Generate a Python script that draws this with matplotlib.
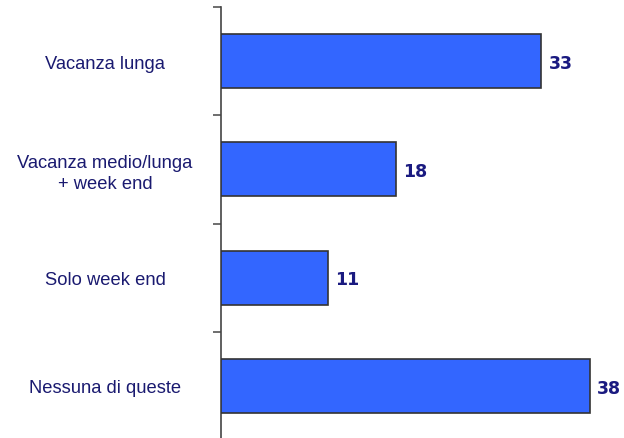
import matplotlib
matplotlib.use("Agg")
import matplotlib.pyplot as plt
import numpy as np

categories = ["Vacanza lunga", "Vacanza medio/lunga\n+ week end", "Solo week end", "Nessuna di queste"]
values = [33, 18, 11, 38]

plt.rcParams['font.family'] = ['Liberation Sans', 'DejaVu Sans']

W, H = 624, 439
fig = plt.figure(figsize=(W / 100, H / 100), dpi=100)
left_px, right_px = 221, 624
top_px, bot_px = 8, 441
ax = fig.add_axes([left_px / W, (H - bot_px) / H, (right_px - left_px) / W, (bot_px - top_px) / H])

n = len(categories)
y = np.arange(n)
ax.barh(y, values, height=0.5, color="#3366FF", edgecolor="#333333", linewidth=1.2, zorder=3)
ax.set_ylim(n - 0.5, -0.5)
ax.set_xlim(0, 41.5)

for yi, v in zip(y, values):
    ax.text(v + 0.75, yi + 0.016, f"{v}", va="center", ha="left", fontsize=12.5, fontweight="bold",
            color="#1A1A80", family="DejaVu Sans")

for s in ["top", "right", "bottom"]:
    ax.spines[s].set_visible(False)
ax.spines["left"].set_color("#444444")
ax.spines["left"].set_linewidth(1.2)
ax.set_xticks([])

ax.set_yticks(y)
ax.set_yticklabels(categories, ha="center", fontsize=13.2, color="#1A1A70", linespacing=1.3)
ax.tick_params(axis="y", which="major", length=0, pad=116 * 72 / 100)
for lbl in ax.get_yticklabels():
    lbl.set_y(lbl.get_position()[1])
ax.set_yticks(np.arange(-0.5, n, 1.0), minor=True)
ax.tick_params(axis="y", which="minor", length=8 * 72 / 100, width=1.2, color="#555555", direction="out")

fig.savefig("out.png", dpi=100)
